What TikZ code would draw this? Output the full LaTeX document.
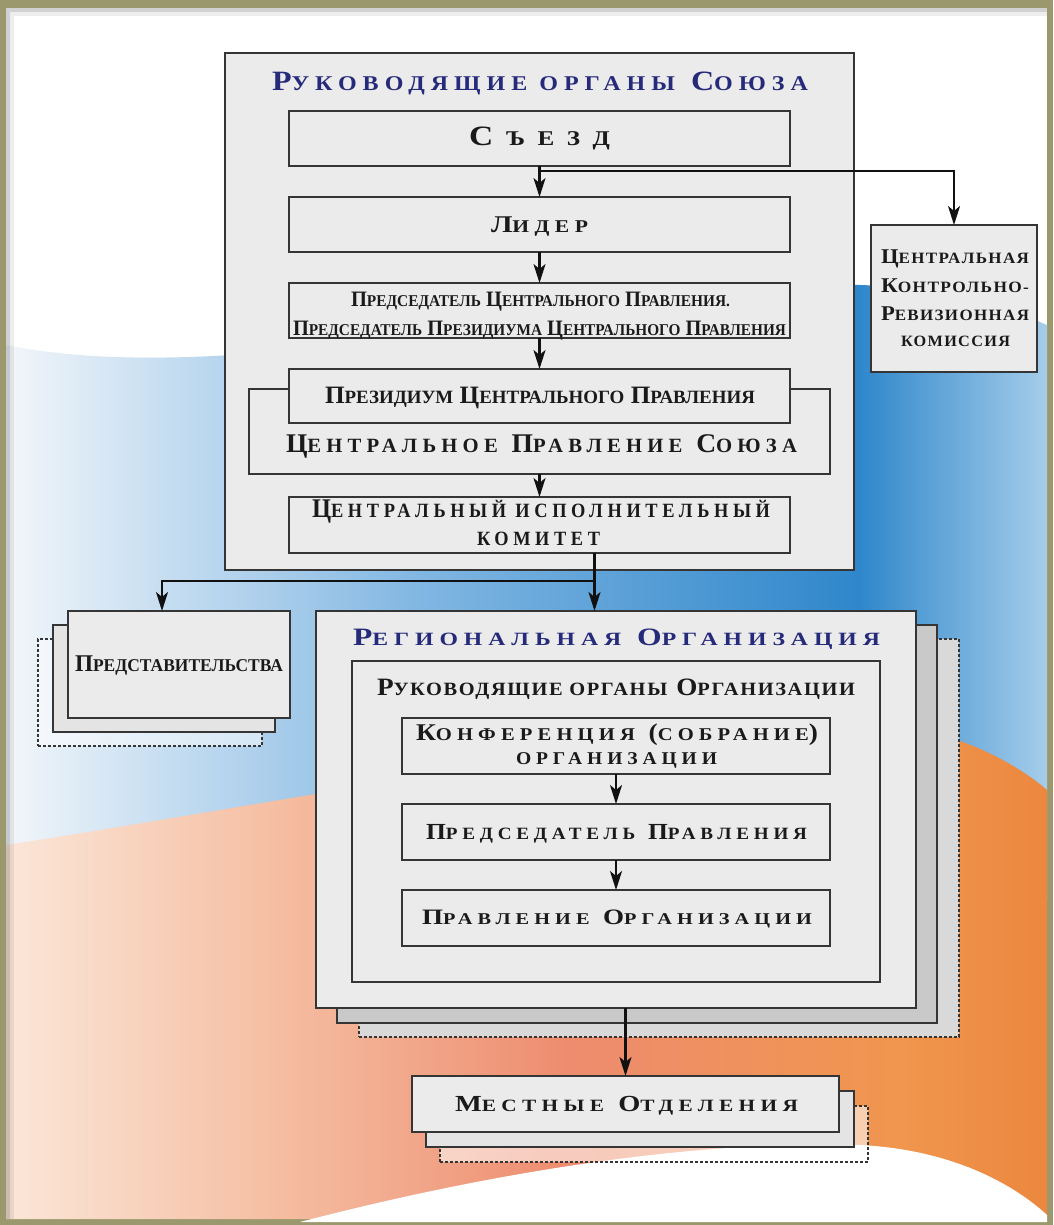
\documentclass[tikz,border=0pt]{standalone}
\usepackage{fontspec}
\setmainfont{Liberation Serif}
\newfontfamily\trk[LetterSpace=25]{Liberation Serif}
\newfontfamily\trm[LetterSpace=8]{Liberation Serif}
\newfontfamily\trn{Liberation Serif}
\usepackage{graphicx}
\usetikzlibrary{arrows.meta}
\definecolor{olivefr}{HTML}{9A986C}
\definecolor{bord}{HTML}{353535}
\definecolor{boxf}{HTML}{EBEBEB}
\definecolor{midf}{HTML}{E4E4E4}
\definecolor{regmid}{HTML}{C9C9C9}
\definecolor{regdash}{HTML}{D9D9D9}
\definecolor{txt}{HTML}{1A1A1A}
\definecolor{ttlblue}{HTML}{262A7A}
\definecolor{arrc}{HTML}{111111}
\definecolor{bA}{HTML}{F2F6FA}
\definecolor{bB}{HTML}{80B6E2}
\definecolor{bC}{HTML}{2F87CB}
\definecolor{bD}{HTML}{A5CDEA}
\definecolor{oA}{HTML}{FBE6D8}
\definecolor{oB}{HTML}{F5BEA2}
\definecolor{oC}{HTML}{EE8C6F}
\definecolor{oD}{HTML}{F0964E}
\definecolor{oE}{HTML}{EC873E}
\pgfdeclarehorizontalshading{bluesh}{100bp}{color(0bp)=(bA); color(25bp)=(bA); color(45bp)=(bB); color(66bp)=(bC); color(75bp)=(bD); color(100bp)=(bD)}
\pgfdeclarehorizontalshading{orsh}{100bp}{color(0bp)=(oA); color(25bp)=(oA); color(38bp)=(oB); color(52bp)=(oC); color(68bp)=(oD); color(75bp)=(oE); color(100bp)=(oE)}
\makeatletter
\newcommand\sm[1]{{\fontsize{\strip@pt\dimexpr\f@size pt*3/4\relax}{\f@baselineskip}\selectfont #1}}
\makeatother
\newcommand\fs[1]{\fontsize{#1}{#1}\selectfont}
\newsavebox\fitbox
\newcommand\fitw[2]{\sbox\fitbox{#2}\pgfmathsetmacro\fitr{#1/\wd\fitbox}\scalebox{\fitr}[1]{\usebox\fitbox}}
\newcommand\rbox[6][box]{\node[#1, minimum width={(#5)-(#3)}, minimum height={(#6)-(#4)}] (#2) at ({((#3)+(#5))/2},{((#4)+(#6))/2}) {};}
\begin{document}
\begin{tikzpicture}[x=1pt,y=-1pt,
 box/.style={draw=bord, line width=2.2pt, fill=boxf, inner sep=0pt, outer sep=0pt},
 dbox/.style={draw=bord, line width=1.8pt, dash pattern=on 3pt off 2pt, inner sep=0pt, outer sep=0pt},
 lbl/.style={anchor=base, inner sep=0pt, outer sep=0pt, text=txt},
 ttl/.style={anchor=base, inner sep=0pt, outer sep=0pt, text=ttlblue},
 arr/.style={draw=arrc, line width=2.2pt, -{Stealth[length=19pt,width=12pt,inset=5pt]}}]
\useasboundingbox (0,0) rectangle (1053,1225);
% background
\fill[olivefr] (0,0) rectangle (1053,1225);
\fill[white] (6,8) rectangle (1047,1219);
\shade[shading=bluesh] (6,345) .. controls (250,395) and (650,280) .. (860,285)
  .. controls (950,288) and (1000,305) .. (1047,325) -- (1047,900) -- (6,900) -- cycle;
\shade[shading=orsh] (6,845) .. controls (300,800) and (800,700) .. (940,735)
  .. controls (990,748) and (1030,775) .. (1047,790) -- (1047,1219) -- (6,1219) -- cycle;
\fill[white] (300,1222) .. controls (500,1170) and (700,1140) .. (860,1145)
  .. controls (960,1150) and (1020,1190) .. (1047,1215) -- (1047,1222) -- cycle;
\fill[black, opacity=0.18] (6,8) rectangle (1047,12);
\fill[black, opacity=0.18] (6,12) rectangle (10,1219);
\fill[black, opacity=0.07] (10,12) rectangle (1047,16);
\fill[black, opacity=0.07] (10,16) rectangle (14,1219);
% representations
\rbox[dbox, fill=white, fill opacity=0.5]{repC}{38}{639}{262}{746}
\rbox[box, fill=midf]{repB}{53}{625}{275}{732}
\rbox{repA}{68}{611}{290}{718}
% regional organisation
\rbox[dbox, fill=regdash]{regC}{359}{639}{959}{1037}
\rbox[box, fill=regmid]{regB}{337}{625}{937}{1023}
\rbox{reg}{316}{611}{916}{1008}
\rbox{inner}{352}{661}{880}{982}
\rbox{conf}{402}{718}{830}{774}
\rbox{predp}{402}{804}{830}{860}
\rbox{prav}{402}{890}{830}{946}
% local branches
\rbox[dbox, fill=white, fill opacity=0.55]{mestC}{440}{1106}{868}{1162}
\rbox[box, fill=midf]{mestB}{426}{1091}{854}{1147}
\rbox{mest}{412}{1076}{839}{1132}
% union governing bodies
\rbox{box1}{225}{53}{854}{570}
\rbox{sezd}{289}{111}{790}{166}
\rbox{lider}{289}{197}{790}{252}
\rbox{pred}{289}{283}{790}{338}
\rbox{cp}{249}{389}{830}{474}
\rbox{prez}{289}{369}{790}{423}
\rbox{cik}{289}{497}{790}{553}
\rbox{ckrk}{871}{225}{1037}{372}
% texts
\node[ttl] (t1) at (540,91) {\fitw{536}{\trk\bfseries\fs{28}Р\sm{УКОВОДЯЩИЕ ОРГАНЫ} С\sm{ОЮЗА}}};
\node[lbl] (t2) at (539.5,146) {\fitw{141}{\trk\bfseries\fs{28}С\sm{ Ъ Е З Д}}};
\node[lbl] (t3) at (539.5,232) {\fitw{97}{\trk\bfseries\fs{24}Л\sm{ИДЕР}}};
\node[lbl] (t4) at (540.5,306) {\fitw{379}{\trn\bfseries\fs{22}П\sm{РЕДСЕДАТЕЛЬ} Ц\sm{ЕНТРАЛЬНОГО} П\sm{РАВЛЕНИЯ.}}};
\node[lbl] (t5) at (539.5,335) {\fitw{493}{\trn\bfseries\fs{22}П\sm{РЕДСЕДАТЕЛЬ} П\sm{РЕЗИДИУМА} Ц\sm{ЕНТРАЛЬНОГО} П\sm{РАВЛЕНИЯ}}};
\node[lbl] (t6) at (540,403) {\fitw{430}{\trn\bfseries\fs{25}П\sm{РЕЗИДИУМ} Ц\sm{ЕНТРАЛЬНОГО} П\sm{РАВЛЕНИЯ}}};
\node[lbl] (t7) at (541.5,452) {\fitw{511}{\trk\bfseries\fs{27}Ц\sm{ЕНТРАЛЬНОЕ} П\sm{РАВЛЕНИЕ} С\sm{ОЮЗА}}};
\node[lbl] (t8) at (541,517) {\fitw{458}{\trk\bfseries\fs{27}Ц\sm{ЕНТРАЛЬНЫЙ ИСПОЛНИТЕЛЬНЫЙ}}};
\node[lbl] (t9) at (538.5,545) {\fitw{123}{\trk\bfseries\fs{27}\sm{КОМИТЕТ}}};
\node[lbl] (t10) at (955,263) {\fitw{148}{\trm\bfseries\fs{21}Ц\sm{ЕНТРАЛЬНАЯ}}};
\node[lbl] (t11) at (955,292) {\fitw{148}{\trm\bfseries\fs{21}К\sm{ОНТРОЛЬНО-}}};
\node[lbl] (t12) at (955,320) {\fitw{148}{\trm\bfseries\fs{21}Р\sm{ЕВИЗИОННАЯ}}};
\node[lbl] (t13) at (955.5,346) {\fitw{109}{\trm\bfseries\fs{21}\sm{КОМИССИЯ}}};
\node[lbl] (t14) at (179,671) {\fitw{208}{\trn\bfseries\fs{24}П\sm{РЕДСТАВИТЕЛЬСТВА}}};
\node[ttl] (t15) at (616.5,645) {\fitw{527}{\trk\bfseries\fs{25}Р\sm{ЕГИОНАЛЬНАЯ} О\sm{РГАНИЗАЦИЯ}}};
\node[lbl] (t16) at (616,695) {\fitw{478}{\trm\bfseries\fs{25}Р\sm{УКОВОДЯЩИЕ ОРГАНЫ} О\sm{РГАНИЗАЦИИ}}};
\node[lbl] (t17) at (617,740) {\fitw{402}{\trk\bfseries\fs{24}К\sm{ОНФЕРЕНЦИЯ} (\sm{СОБРАНИЕ})}};
\node[lbl] (t18) at (616.5,764) {\fitw{201}{\trk\bfseries\fs{24}\sm{ОРГАНИЗАЦИИ}}};
\node[lbl] (t19) at (616.5,839) {\fitw{381}{\trk\bfseries\fs{23}П\sm{РЕДСЕДАТЕЛЬ} П\sm{РАВЛЕНИЯ}}};
\node[lbl] (t20) at (617,924) {\fitw{390}{\trk\bfseries\fs{22}П\sm{РАВЛЕНИЕ} О\sm{РГАНИЗАЦИИ}}};
\node[lbl] (t21) at (626.5,1111) {\fitw{343}{\trk\bfseries\fs{23}М\sm{ЕСТНЫЕ} О\sm{ТДЕЛЕНИЯ}}};
% connectors
\draw[arr] (sezd.south) -- (lider.north);
\coordinate (j1) at ([yshift=-5pt]sezd.south);
\draw[arr] (j1) -| (ckrk.north);
\draw[arr] (lider.south) -- (pred.north);
\draw[arr] (pred.south) -- (prez.north);
\draw[arr] (cp.south) -- (cik.north);
\coordinate (j2) at ([xshift=55pt]cik.south);
\draw[arr] (j2) -- (j2 |- reg.north);
\coordinate (j3) at ([yshift=-28pt]j2);
\draw[arr] (j3) -| ([xshift=-17pt]repA.north);
\draw[arr] (conf.south) -- (predp.north);
\draw[arr] (predp.south) -- (prav.north);
\draw[arr] (reg.south -| mest.north) -- (mest.north);
\end{tikzpicture}
\end{document}
